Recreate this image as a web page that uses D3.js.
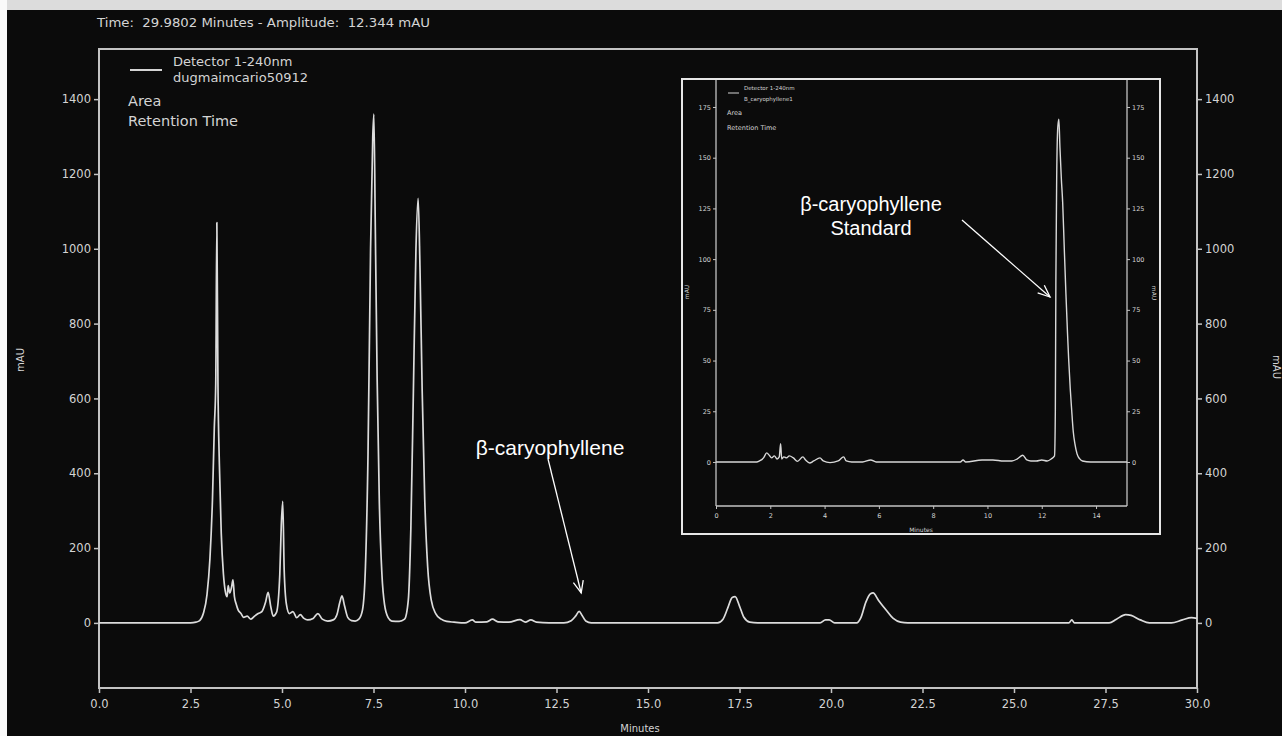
<!DOCTYPE html>
<html>
<head>
<meta charset="utf-8">
<script src="https://cdn.jsdelivr.net/npm/d3@7"></script>
<style>
html,body{margin:0;padding:0;background:#ececec;}
svg{display:block;}
</style>
</head>
<body>
<svg id="c" width="1282" height="736"></svg>
<script>
// ---------------- DATA ----------------
const titleText = "Time:  29.9802 Minutes - Amplitude:  12.344 mAU";
const legendMain = ["Detector 1-240nm", "dugmaimcario50912"];
const legendInset = ["Detector 1-240nm", "B_caryophyllene1"];
const legendExtra = ["Area", "Retention Time"];
const mainXTicks = [0, 2.5, 5, 7.5, 10, 12.5, 15, 17.5, 20, 22.5, 25, 27.5, 30];
const mainYTicks = [0, 200, 400, 600, 800, 1000, 1200, 1400];
const insetXTicks = [0, 2, 4, 6, 8, 10, 12, 14];
const insetYTicks = [0, 25, 50, 75, 100, 125, 150, 175];
const xLabel = "Minutes";
const yLabel = "mAU";
const annotationSample = ["β-caryophyllene"];
const annotationStandard = ["β-caryophyllene", "Standard"];

// main chromatogram: [minutes, mAU]
const mainTrace = [
 [0,0],[1,0],[2,0],[2.5,0],[2.65,2],[2.75,6],[2.85,25],[2.95,75],[3.03,170],[3.1,330],[3.15,520],[3.19,640],[3.22,1070],[3.25,640],[3.29,420],[3.34,240],[3.4,130],[3.45,85],[3.5,70],[3.53,100],[3.57,80],[3.62,95],[3.66,115],[3.7,70],[3.75,50],[3.8,35],[3.88,25],[3.95,15],[4.05,18],[4.15,10],[4.25,18],[4.35,25],[4.45,30],[4.55,55],[4.62,82],[4.69,45],[4.76,18],[4.85,28],[4.94,130],[4.98,260],[5.02,325],[5.06,140],[5.12,50],[5.2,25],[5.3,30],[5.4,14],[5.5,22],[5.6,12],[5.7,8],[5.85,12],[5.98,25],[6.1,10],[6.25,5],[6.4,8],[6.5,22],[6.58,55],[6.64,72],[6.71,45],[6.8,14],[6.9,6],[7.0,5],[7.1,10],[7.2,35],[7.28,150],[7.35,450],[7.42,1000],[7.48,1300],[7.51,1360],[7.55,1050],[7.6,650],[7.66,320],[7.73,130],[7.8,50],[7.9,14],[8.0,5],[8.2,4],[8.35,10],[8.45,60],[8.52,250],[8.59,620],[8.66,1000],[8.72,1135],[8.77,950],[8.83,620],[8.9,330],[8.98,150],[9.08,60],[9.2,25],[9.35,10],[9.5,4],[9.7,2],[10.0,0],[10.2,8],[10.3,2],[10.6,3],[10.75,10],[10.9,3],[11.2,2],[11.5,9],[11.65,2],[11.8,8],[11.95,2],[12.3,0],[12.7,0],[12.9,6],[13.02,18],[13.12,31],[13.2,20],[13.3,5],[13.45,0],[14,0],[15,0],[16,0],[16.9,0],[17.05,10],[17.18,40],[17.3,68],[17.38,70],[17.5,45],[17.62,15],[17.78,2],[18,0],[19,0],[19.7,0],[19.85,8],[19.95,8],[20.1,0],[20.7,0],[20.82,15],[20.95,55],[21.08,78],[21.15,80],[21.3,60],[21.5,35],[21.7,12],[21.9,2],[22.1,0],[23,0],[24,0],[25,0],[26,0],[26.5,0],[26.58,8],[26.65,0],[27,0],[27.6,0],[27.8,10],[28.05,22],[28.2,20],[28.45,8],[28.7,0],[29.3,0],[29.6,8],[29.85,14],[30,12.3]
];

// inset (standard) chromatogram: [minutes, mAU]
const insetTrace = [
 [0,0],[1,0],[1.5,0],[1.6,0.5],[1.75,2],[1.87,4.5],[1.95,3.5],[2.05,2],[2.15,3],[2.25,1.5],[2.33,2.5],[2.38,9],[2.42,1.5],[2.5,2.5],[2.6,2],[2.7,3],[2.85,2],[3.0,0.3],[3.2,2.5],[3.3,1],[3.45,-0.5],[3.6,0.5],[3.83,2],[3.95,0.5],[4.2,-0.3],[4.5,0.5],[4.7,2.5],[4.8,0.5],[5.0,0],[5.4,0],[5.7,1],[5.9,0],[7,0],[8,0],[9,0],[9.1,1],[9.2,0],[9.8,1],[10.2,1],[10.6,0.5],[10.9,0.5],[11.1,1.5],[11.3,3.3],[11.45,1],[11.6,0.5],[11.8,0.5],[12.0,1],[12.2,0.5],[12.35,1.5],[12.47,3],[12.5,25],[12.52,90],[12.55,140],[12.59,165],[12.63,169],[12.67,155],[12.72,140],[12.77,128],[12.83,105],[12.89,83],[12.95,63],[12.99,51],[13.05,36],[13.1,26],[13.16,15],[13.22,9],[13.3,4],[13.4,1.5],[13.5,0.5],[13.8,0],[15.14,0]
];

// ---------------- DRAW ----------------
const svg = d3.select("#c");
const fg = "#d4d4d4";
const axisCol = "#c4c4c4";
const font = "DejaVu Sans, Arial, sans-serif";

// dark background
svg.append("rect").attr("x", 7).attr("y", 10).attr("width", 1275).attr("height", 726).attr("fill", "#0b0b0b");
svg.append("rect").attr("x", 7).attr("y", 0).attr("width", 1275).attr("height", 10).attr("fill", "#dcdcdc");
svg.append("rect").attr("x", 0).attr("y", 0).attr("width", 7).attr("height", 736).attr("fill", "#fafafa");

// main scales
const x = d3.scaleLinear().domain([0, 30]).range([99, 1197]);
const y = d3.scaleLinear().domain([-174, 1534]).range([688, 49]);

// frame
svg.append("rect").attr("x", 99).attr("y", 49).attr("width", 1098).attr("height", 639)
  .attr("fill", "none").attr("stroke", axisCol).attr("stroke-width", 2);

function styleAxis(g, size) {
  g.select(".domain").remove();
  g.selectAll(".tick line").attr("stroke", axisCol).attr("stroke-width", 1.5);
  g.selectAll(".tick text").attr("fill", fg).attr("font-family", font).attr("font-size", size);
}

svg.append("g").attr("transform", "translate(0,688)")
  .call(d3.axisBottom(x).tickValues(mainXTicks).tickFormat(d3.format(".1f")).tickSize(5).tickPadding(7))
  .call(g => styleAxis(g, 11.5));
svg.append("g").attr("transform", "translate(99,0)")
  .call(d3.axisLeft(y).tickValues(mainYTicks).tickFormat(d3.format("d")).tickSize(5).tickPadding(3))
  .call(g => styleAxis(g, 11.5));
svg.append("g").attr("transform", "translate(1197,0)")
  .call(d3.axisRight(y).tickValues(mainYTicks).tickFormat(d3.format("d")).tickSize(5).tickPadding(3))
  .call(g => styleAxis(g, 11.5));

svg.append("text").attr("x", 640).attr("y", 732).attr("text-anchor", "middle")
  .attr("fill", fg).attr("font-family", font).attr("font-size", 10).text(xLabel);
svg.append("text").attr("transform", "translate(24,360) rotate(-90)").attr("text-anchor", "middle")
  .attr("fill", fg).attr("font-family", font).attr("font-size", 10).text(yLabel);
svg.append("text").attr("transform", "translate(1273,367) rotate(90)").attr("text-anchor", "middle")
  .attr("fill", fg).attr("font-family", font).attr("font-size", 10).text(yLabel);

// title
svg.append("text").attr("x", 97).attr("y", 27).attr("fill", fg).attr("font-family", font)
  .attr("font-size", 12).attr("textLength", 333).attr("lengthAdjust", "spacingAndGlyphs")
  .style("white-space", "pre").text(titleText);

// legend main
svg.append("line").attr("x1", 130).attr("x2", 162).attr("y1", 70).attr("y2", 70).attr("stroke", fg).attr("stroke-width", 2);
legendMain.forEach((t, i) => svg.append("text").attr("x", 173).attr("y", 66 + i * 16)
  .attr("fill", fg).attr("font-family", font).attr("font-size", 13).text(t));
legendExtra.forEach((t, i) => svg.append("text").attr("x", 128).attr("y", 106 + i * 20)
  .attr("fill", fg).attr("font-family", font).attr("font-size", 14.5).text(t));

// main trace
const line = d3.line().x(d => x(d[0])).y(d => y(d[1])).curve(d3.curveMonotoneX);
svg.append("path").datum(mainTrace).attr("d", line).attr("fill", "none")
  .attr("stroke", "#dcdcdc").attr("stroke-width", 1.7).attr("stroke-linejoin", "round");

// ---------------- INSET ----------------
svg.append("rect").attr("x", 682).attr("y", 79).attr("width", 478).attr("height", 455)
  .attr("fill", "#0b0b0b").attr("stroke", "#e6e6e6").attr("stroke-width", 2);

const xi = d3.scaleLinear().domain([0, 15.14]).range([716, 1127]);
const yi = d3.scaleLinear().domain([-21.7, 188.3]).range([506, 80]);

const ig = svg.append("g");
ig.append("line").attr("x1", 716).attr("x2", 716).attr("y1", 80).attr("y2", 506).attr("stroke", axisCol).attr("stroke-width", 1.3);
ig.append("line").attr("x1", 1127).attr("x2", 1127).attr("y1", 80).attr("y2", 506).attr("stroke", axisCol).attr("stroke-width", 1.3);
ig.append("line").attr("x1", 716).attr("x2", 1127).attr("y1", 506).attr("y2", 506).attr("stroke", axisCol).attr("stroke-width", 1.3);

ig.append("g").attr("transform", "translate(0,506)")
  .call(d3.axisBottom(xi).tickValues(insetXTicks).tickFormat(d3.format("d")).tickSize(3).tickPadding(4))
  .call(g => styleAxis(g, 6.5));
ig.append("g").attr("transform", "translate(716,0)")
  .call(d3.axisLeft(yi).tickValues(insetYTicks).tickFormat(d3.format("d")).tickSize(3).tickPadding(2))
  .call(g => styleAxis(g, 6.5));
ig.append("g").attr("transform", "translate(1127,0)")
  .call(d3.axisRight(yi).tickValues(insetYTicks).tickFormat(d3.format("d")).tickSize(3).tickPadding(2))
  .call(g => styleAxis(g, 6.5));
ig.selectAll(".tick line").attr("stroke-width", 1);

ig.append("text").attr("x", 921).attr("y", 532).attr("text-anchor", "middle")
  .attr("fill", fg).attr("font-family", font).attr("font-size", 6).text(xLabel);
ig.append("text").attr("transform", "translate(689,292) rotate(-90)").attr("text-anchor", "middle")
  .attr("fill", fg).attr("font-family", font).attr("font-size", 6).text(yLabel);
ig.append("text").attr("transform", "translate(1152,293) rotate(90)").attr("text-anchor", "middle")
  .attr("fill", fg).attr("font-family", font).attr("font-size", 6).text(yLabel);

ig.append("line").attr("x1", 728).attr("x2", 739).attr("y1", 93).attr("y2", 93).attr("stroke", fg).attr("stroke-width", 1);
legendInset.forEach((t, i) => ig.append("text").attr("x", 744).attr("y", 90 + i * 11)
  .attr("fill", fg).attr("font-family", font).attr("font-size", 5.5).text(t));
legendExtra.forEach((t, i) => ig.append("text").attr("x", 727).attr("y", 115 + i * 15)
  .attr("fill", fg).attr("font-family", font).attr("font-size", 6.5).text(t));

const linei = d3.line().x(d => xi(d[0])).y(d => yi(d[1])).curve(d3.curveMonotoneX);
ig.append("path").datum(insetTrace).attr("d", linei).attr("fill", "none")
  .attr("stroke", "#d8d8d8").attr("stroke-width", 1.4).attr("stroke-linejoin", "round");

// ---------------- ANNOTATIONS ----------------
const afont = "Liberation Sans, Arial, sans-serif";
svg.append("text").attr("x", 550).attr("y", 455).attr("text-anchor", "middle")
  .attr("fill", "#ffffff").attr("font-family", afont).attr("font-size", 21).text(annotationSample[0]);
annotationStandard.forEach((t, i) => svg.append("text").attr("x", 871).attr("y", 211 + i * 24)
  .attr("text-anchor", "middle").attr("fill", "#ffffff").attr("font-family", afont).attr("font-size", 20).text(t));

function arrow(x1, y1, x2, y2) {
  svg.append("line").attr("x1", x1).attr("y1", y1).attr("x2", x2).attr("y2", y2)
    .attr("stroke", "#ffffff").attr("stroke-width", 1.3);
  const a = Math.atan2(y2 - y1, x2 - x1), L = 13, w = 0.4;
  const p = d3.path();
  p.moveTo(x2 - L * Math.cos(a - w), y2 - L * Math.sin(a - w));
  p.lineTo(x2, y2);
  p.lineTo(x2 - L * Math.cos(a + w), y2 - L * Math.sin(a + w));
  svg.append("path").attr("d", p.toString()).attr("fill", "none").attr("stroke", "#ffffff").attr("stroke-width", 1.3);
}
arrow(548, 459, x(13.12) + 2, 593);
arrow(962, 220, 1050, 297);
</script>
</body>
</html>
